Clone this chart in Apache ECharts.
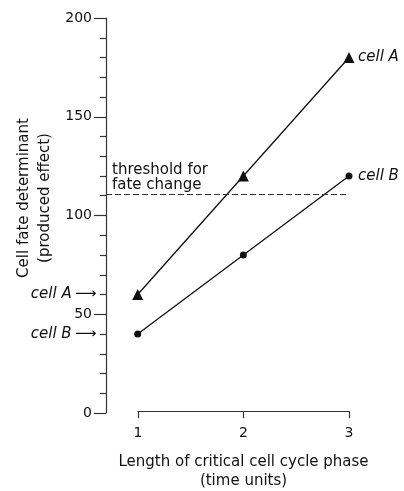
<!DOCTYPE html>
<html>
<head>
<meta charset="utf-8">
<script src="https://cdn.jsdelivr.net/npm/echarts@6/dist/echarts.min.js"></script>
<style>
  html, body { margin: 0; padding: 0; background: #fff; }
  #chart { width: 404px; height: 491px; }
</style>
</head>
<body>
<div id="chart"></div>
<script>
// data
const phaseLength = [1, 2, 3];
const cellA = [60, 120, 180];
const cellB = [40, 80, 120];
const threshold = 111;
const seriesNames = ['cell A', 'cell B'];

const FONT = 'DejaVu Sans';
const INK = '#111';
const xMin = 0.7; // y axis sits a bit left of x = 1

const chart = echarts.init(document.getElementById('chart'));

function pts(vals) {
  return vals.map((v, i) => [phaseLength[i], v]);
}

// left hand "cell X ->" marker at the first value
function startMark(name, v) {
  return {
    symbol: 'circle',
    symbolSize: 1,
    silent: true,
    itemStyle: { color: 'rgba(0,0,0,0)' },
    label: {
      show: true,
      position: 'left',
      distance: 9,
      formatter: '{n|' + name + '} {a|⟶}',
      rich: {
        n: { fontFamily: FONT, fontSize: 15, fontStyle: 'italic', color: INK },
        a: { fontFamily: FONT, fontSize: 15, color: INK }
      }
    },
    data: [{ coord: [xMin, v] }]
  };
}

function lineSeries(name, vals, symbol, size) {
  return {
    name: name,
    type: 'line',
    xAxisIndex: 0,
    yAxisIndex: 0,
    data: pts(vals),
    symbol: symbol,
    symbolSize: size,
    clip: false,
    itemStyle: { color: INK },
    lineStyle: { color: INK, width: 1.3 },
    endLabel: {
      show: true,
      formatter: name,
      distance: 9,
      fontFamily: FONT,
      fontSize: 15,
      fontStyle: 'italic',
      color: INK
    },
    markPoint: startMark(name, vals[0]),
    animation: false
  };
}

const seriesA = lineSeries(seriesNames[0], cellA, 'triangle', 11);
seriesA.markLine = {
  silent: true,
  symbol: 'none',
  lineStyle: { type: [6, 3], color: '#333', width: 1 },
  label: {
    show: true,
    position: 'insideStartTop',
    distance: [6, 1],
    formatter: 'threshold for\nfate change',
    fontFamily: FONT,
    fontSize: 15,
    lineHeight: 15,
    align: 'left',
    color: INK
  },
  data: [{ yAxis: threshold }]
};
const seriesB = lineSeries(seriesNames[1], cellB, 'circle', 7);

const option = {
  backgroundColor: '#fff',
  animation: false,
  grid: [
    { left: 106, top: 18, width: 243, height: 395 },
    { left: 138, top: 411, width: 211, height: 1 }
  ],
  xAxis: [
    { gridIndex: 0, type: 'value', min: xMin, max: 3, show: false },
    {
      gridIndex: 1, type: 'value', min: 1, max: 3, interval: 1,
      axisLine: { lineStyle: { color: '#333', width: 1.2 } },
      axisTick: { length: 7, lineStyle: { color: '#333', width: 1.2 } },
      axisLabel: { margin: 15, fontFamily: FONT, fontSize: 14, color: INK },
      splitLine: { show: false },
      name: 'Length of critical cell cycle phase\n(time units)',
      nameLocation: 'middle',
      nameGap: 41,
      nameTextStyle: { fontFamily: FONT, fontSize: 15, lineHeight: 19, color: INK }
    }
  ],
  yAxis: [
    {
      gridIndex: 0, type: 'value', min: 0, max: 200, interval: 50,
      axisLine: { show: true, lineStyle: { color: '#333', width: 1.2 } },
      axisTick: { show: true, length: 12, lineStyle: { color: '#333', width: 1.2 } },
      minorTick: { show: true, splitNumber: 5, length: 6, lineStyle: { color: '#333', width: 1.2 } },
      axisLabel: { margin: 14, fontFamily: FONT, fontSize: 14, color: INK },
      splitLine: { show: false }
    },
    { gridIndex: 1, type: 'value', show: false }
  ],
  graphic: [{
    type: 'text',
    x: 35,
    y: 198,
    rotation: Math.PI / 2,
    style: {
      text: 'Cell fate determinant\n(produced effect)',
      fontFamily: FONT,
      fontSize: 15,
      lineHeight: 21,
      align: 'center',
      verticalAlign: 'middle',
      fill: INK
    }
  }],
  series: [seriesA, seriesB]
};

chart.setOption(option);
window.onresize = () => chart.resize();
</script>
</body>
</html>
